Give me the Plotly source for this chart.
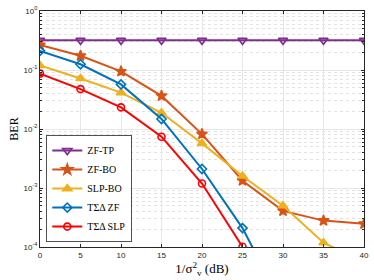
import plotly.graph_objects as go

snr = [0, 5, 10, 15, 20, 25, 30, 35, 40]
zf_tp = [0.318, 0.318, 0.318, 0.318, 0.318, 0.318, 0.318, 0.318, 0.318]
zf_bo = [0.265, 0.174, 0.0946, 0.0364, 0.0082, 0.00133, 4.1e-4, 2.8e-4, 2.47e-4]
slp_bo = [0.119, 0.0716, 0.0414, 0.0188, 0.0057, 0.0016, 5.0e-4, 1.18e-4, 5.6e-5]
tsd_zf = [0.211, 0.125, 0.057, 0.0148, 0.0021, 2.09e-4, 1.0e-5]
tsd_slp = [0.0867, 0.0475, 0.0233, 0.0074, 0.00119, 1.01e-4]

names = ["ZF-TP", "ZF-BO", "SLP-BO", "TΣΔ ZF", "TΣΔ SLP"]
series = [zf_tp, zf_bo, slp_bo, tsd_zf, tsd_slp]
colors = ["#7E2F8E", "#D95319", "#EDB120", "#0072BD", "#FF0000"]
symbols = ["triangle-down-open", "star", "triangle-up", "diamond-open", "circle-open"]
msizes = [8, 8, 8, 7, 7]

xticks = [0, 5, 10, 15, 20, 25, 30, 35, 40]
yticks = [1e-4, 1e-3, 1e-2, 1e-1, 1]
yticktext = ["10<sup>-4</sup>", "10<sup>-3</sup>", "10<sup>-2</sup>", "10<sup>-1</sup>", "10<sup>0</sup>"]

fig = go.Figure()
for n, s, c, sym, ms in zip(names, series, colors, symbols, msizes):
    fig.add_trace(go.Scatter(
        x=snr[:len(s)], y=s, name=n, mode="lines+markers",
        line=dict(color=c, width=2),
        marker=dict(symbol=sym, size=ms, color=c, line=dict(color=c, width=1.6)),
        cliponaxis=True,
    ))

minor_y = [m * 10 ** e for e in range(-4, 0) for m in range(2, 10)]

fig.update_layout(
    width=374, height=280,
    margin=dict(l=40, r=5, t=6, b=33),
    paper_bgcolor="white", plot_bgcolor="white",
    font=dict(family="Liberation Sans, Arial", size=8, color="#262626"),
    showlegend=True,
    legend=dict(
        x=0.02, y=0.02, xanchor="left", yanchor="bottom",
        bgcolor="white", bordercolor="#262626", borderwidth=0.8,
        font=dict(family="Liberation Serif, Times New Roman", size=10, color="#000000"),
        tracegroupgap=0, itemwidth=30,
    ),
    xaxis=dict(
        range=[0, 40], tickvals=xticks, ticktext=[str(v) for v in xticks],
        showgrid=True, gridcolor="#E6E6E6", gridwidth=1,
        showline=True, linecolor="#262626", linewidth=1, mirror="ticks",
        ticks="inside", ticklen=3, tickcolor="#262626",
        zeroline=False,
        title=dict(text="1/σ<sup>2</sup><sub>v</sub> (dB)",
                   font=dict(family="Liberation Serif, Times New Roman", size=13, color="#000000"),
                   standoff=4),
    ),
    yaxis=dict(
        type="log", range=[-4, 0], tickvals=yticks, ticktext=yticktext,
        showgrid=True, gridcolor="#E6E6E6", gridwidth=1,
        showline=True, linecolor="#262626", linewidth=1, mirror="ticks",
        ticks="inside", ticklen=3, tickcolor="#262626",
        zeroline=False,
        minor=dict(tickvals=minor_y, showgrid=True, gridcolor="#E3E3E3",
                   griddash="dot", gridwidth=1, ticks="inside", ticklen=2,
                   tickcolor="#262626"),
        title=dict(text="BER",
                   font=dict(family="Liberation Serif, Times New Roman", size=12, color="#000000"),
                   standoff=2),
    ),
)

fig.write_html("out.html", config={"displayModeBar": False},
               post_script="document.body.style.margin='0';document.body.style.padding='0';")
